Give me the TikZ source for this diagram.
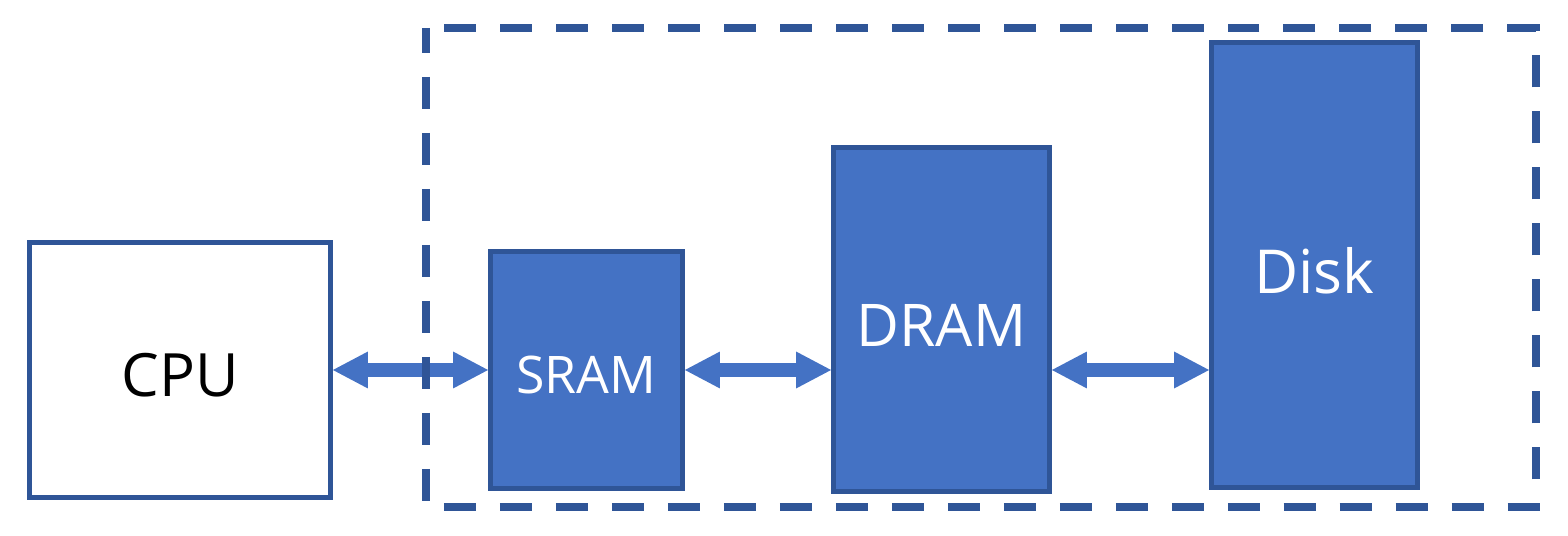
\documentclass[tikz,border=0pt]{standalone}
\usepackage{fontspec}
\setmainfont{Open Sans}
\usepackage{tikz}
\usetikzlibrary{arrows.meta,positioning}

\definecolor{memfill}{HTML}{4472C4}
\definecolor{memline}{HTML}{2F5597}

\begin{document}
\begin{tikzpicture}[x=0.02cm,y=-0.02cm,
        cpubox/.style={draw=memline,line width=0.1cm,fill=white,text height=1.06cm,text depth=0pt,minimum width=6.02cm,minimum height=5.1cm,font=\fontsize{34}{40}\selectfont},
        membox/.style={draw=memline,line width=0.1cm,fill=memfill,text=white,text depth=0pt},
        bus/.style={memfill,line width=0.28cm,{Triangle[width=0.74cm,length=0.7cm,line width=0pt]}-{Triangle[width=0.74cm,length=0.7cm,line width=0pt]}},
        frame/.style={memline,line width=0.16cm,dash pattern=on 0.64cm off 0.48cm,dash phase=0.14cm}]
    \useasboundingbox (0,0) rectangle (1568,536);

    % processor
    \node[cpubox] (cpu) at (180,370) {CPU};

    % memory levels
    \node[membox,text height=0.94cm,minimum width=3.84cm,minimum height=4.74cm,font=\fontsize{29.5}{35}\selectfont] (sram) at (586.5,370) {SRAM};
    \node[membox,text height=1.1cm,minimum width=4.32cm,minimum height=6.88cm,font=\fontsize{33.5}{40}\selectfont] (dram) at (941.5,319.5) {DRAM};
    \node[membox,text height=1.14cm,minimum width=4.12cm,minimum height=8.9cm,font=\fontsize{34.5}{41}\selectfont] (disk) at (1314.5,265) {Disk};

    % links
    \draw[bus] (cpu.east) -- (sram.west);
    \draw[bus] (sram.east) -- (sram.east -| dram.west);
    \draw[bus] (dram.east |- sram.east) -- (disk.west |- sram.east);

    % memory hierarchy
    \draw[frame] (426,28) -- (426,507) -- (1536,507) -- (1536,28) -- cycle;
\end{tikzpicture}
\end{document}
